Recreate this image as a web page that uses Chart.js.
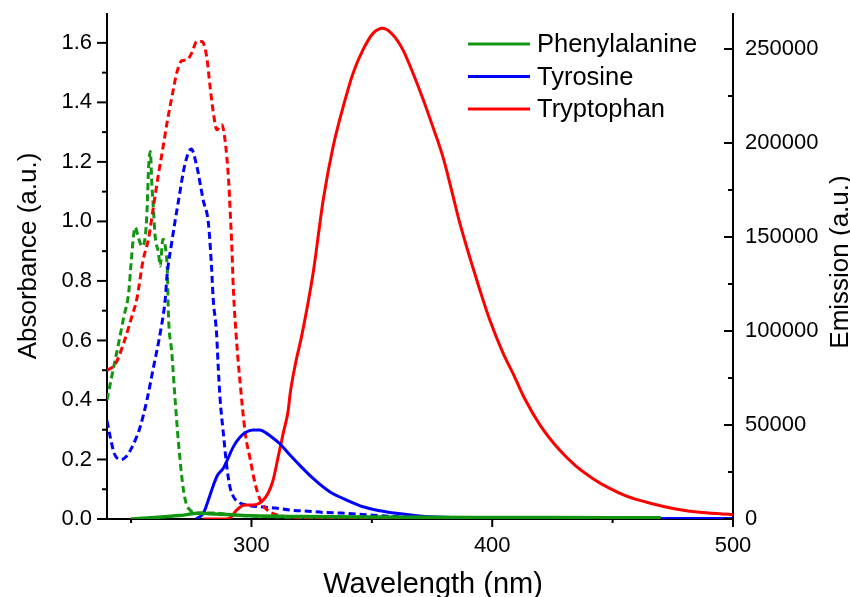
<!DOCTYPE html>
<html>
<head>
<meta charset="utf-8">
<script src="https://cdn.jsdelivr.net/npm/chart.js@4/dist/chart.umd.min.js"></script>
<style>
  body { margin: 0; background: #fff; }
  #wrap { width: 850px; height: 597px; }
</style>
</head>
<body>
<div id="wrap"><canvas id="grafik"></canvas></div>
<script>
// absorbance (dashed, left axis)
const pheAbsWl = [240, 242, 244.8, 247, 249, 250, 251, 251.7, 253.1, 254.5, 255.9, 256.6, 257.3, 258, 258.6, 259.3, 260, 261.4, 262.1, 263.2, 264.2, 265.1, 265.5, 266.9, 268.3, 269.7, 271.7, 273, 274.5, 278, 285, 290, 300, 320, 350, 400];
const pheAbs = [0.40, 0.48, 0.59, 0.68, 0.76, 0.86, 0.95, 0.98, 0.944, 0.916, 0.95, 1.03, 1.185, 1.235, 1.13, 1.04, 0.95, 0.894, 0.85, 0.94, 0.916, 0.827, 0.69, 0.56, 0.40, 0.255, 0.10, 0.05, 0.03, 0.02, 0.02, 0.015, 0.01, 0.005, 0, 0];

const tyrAbsWl = [240, 241.5, 243, 246, 248, 250.3, 252, 253.8, 256.6, 259.3, 262.1, 264.2, 264.9, 266.9, 269.7, 272.5, 275, 277.3, 280, 282.1, 283.4, 284.1, 285.5, 286.2, 287, 288.3, 289.7, 291, 292.5, 295, 298, 305, 310, 316, 323.6, 330, 337.4, 348, 360, 380, 400];
const tyrAbs = [0.33, 0.27, 0.22, 0.20, 0.21, 0.24, 0.27, 0.31, 0.40, 0.51, 0.625, 0.74, 0.815, 0.93, 1.07, 1.196, 1.243, 1.185, 1.07, 0.995, 0.85, 0.74, 0.625, 0.51, 0.40, 0.29, 0.18, 0.11, 0.075, 0.055, 0.047, 0.04, 0.037, 0.03, 0.026, 0.022, 0.02, 0.014, 0.008, 0.003, 0];

const trpAbsWl = [240, 243.4, 246.9, 250.3, 252.4, 255, 257.2, 259.3, 261.4, 263.5, 264.9, 267, 269, 271.1, 273.2, 275.2, 277.3, 279.4, 281.4, 282.8, 284.2, 285.6, 287.7, 289, 290.5, 291.2, 291.9, 292.5, 293.9, 295.3, 297.4, 299.5, 301.5, 303.6, 306.4, 310.5, 320, 340, 400];
const trpAbs = [0.50, 0.52, 0.59, 0.68, 0.74, 0.87, 0.94, 1.05, 1.16, 1.26, 1.33, 1.42, 1.50, 1.54, 1.543, 1.566, 1.605, 1.605, 1.554, 1.454, 1.364, 1.308, 1.325, 1.275, 1.14, 1.028, 0.905, 0.77, 0.59, 0.457, 0.29, 0.20, 0.12, 0.065, 0.031, 0.014, 0.005, 0, 0];

// emission (solid, right axis)
const pheEmWl = [250, 260, 270, 278, 285, 295, 300, 320, 350, 400, 450, 470];
const pheEm = [0, 800, 1800, 3000, 2600, 2000, 1700, 1300, 1000, 800, 700, 600];

const tyrEmWl = [277, 280, 282.1, 284.2, 286, 288.3, 290, 292.5, 295.2, 297.5, 300.7, 303.5, 306, 308.5, 311.8, 316, 320.1, 325.6, 332.5, 339.5, 346.3, 353.3, 360.2, 369.8, 380, 400, 450, 500];
const tyrEm = [0, 3000, 10100, 18000, 23500, 27000, 31500, 38500, 43500, 46000, 47300, 47300, 45800, 43500, 40000, 34000, 28500, 21600, 14500, 10100, 6500, 4400, 3000, 1600, 900, 500, 300, 200];

const trpEmWl = [280, 288, 291, 293.9, 297.3, 300.7, 304.2, 306.9, 309, 311.1, 313.2, 315.3, 316, 318.5, 320.8, 325.6, 329.8, 333.9, 338.1, 342.2, 346.3, 350.5, 354.6, 358.8, 362.9, 367.1, 371.2, 375.3, 379.5, 383, 386.4, 390.6, 394.7, 398.8, 404.4, 409.2, 413.4, 420, 427.9, 434.8, 441.7, 448.6, 455.5, 466.5, 476.2, 487.1, 500];
const trpEm = [0, 0, 500, 4800, 7400, 7400, 9200, 13700, 20700, 33100, 45600, 58000, 66000, 84000, 97000, 130700, 169700, 198000, 219300, 237100, 249500, 258300, 261000, 257400, 249500, 237100, 223500, 208700, 192700, 175500, 158000, 139500, 122500, 106500, 88500, 75900, 64200, 49700, 36800, 28100, 21600, 16400, 12300, 8100, 5300, 3400, 2300];

const names = ["Phenylalanine", "Tyrosine", "Tryptophan"];
const colors = ["#129612", "#0000ff", "#ff0000"];

const absTicks = [0, 0.2, 0.4, 0.6, 0.8, 1.0, 1.2, 1.4, 1.6];
const absMinor = [0.1, 0.3, 0.5, 0.7, 0.9, 1.1, 1.3, 1.5];
const emTicks = [0, 50000, 100000, 150000, 200000, 250000];
const emMinor = [25000, 75000, 125000, 175000, 225000];
const wlTicks = [300, 400, 500];
const wlMinor = [250, 350, 450];

const pts = (xs, ys) => xs.map((x, i) => ({ x: x, y: ys[i] }));
const font = "Liberation Sans, Arial, sans-serif";

const dashed = (d, c, ord) => ({
  data: d, yAxisID: "yAbs", borderColor: c, borderWidth: 3,
  borderDash: [7, 4], pointRadius: 0, cubicInterpolationMode: "monotone", order: ord,
});
const solid = (d, c, ord, w) => ({
  data: d, yAxisID: "yEm", borderColor: c, borderWidth: w,
  pointRadius: 0, cubicInterpolationMode: "monotone", order: ord, borderJoinStyle: "round",
});

// outward / inward tick marks, axis titles and legend
const decor = {
  id: "decor",
  afterDraw(chart) {
    const ctx = chart.ctx;
    const x = chart.scales.x, yA = chart.scales.yAbs, yE = chart.scales.yEm;
    const a = chart.chartArea;
    ctx.save();
    ctx.strokeStyle = "#000";
    ctx.lineWidth = 2;
    const tick = (x1, y1, x2, y2) => {
      ctx.beginPath(); ctx.moveTo(x1, y1); ctx.lineTo(x2, y2); ctx.stroke();
    };
    absTicks.forEach(v => { const p = yA.getPixelForValue(v); tick(a.left - 10, p, a.left, p); });
    absMinor.forEach(v => { const p = yA.getPixelForValue(v); tick(a.left - 5, p, a.left, p); });
    emTicks.forEach(v => { const p = yE.getPixelForValue(v); tick(a.right - 9, p, a.right, p); });
    emMinor.forEach(v => { const p = yE.getPixelForValue(v); tick(a.right - 5, p, a.right, p); });
    wlTicks.forEach(v => { const p = x.getPixelForValue(v); tick(p, a.bottom, p, a.bottom + 8); });
    wlMinor.forEach(v => { const p = x.getPixelForValue(v); tick(p, a.bottom, p, a.bottom + 4); });

    ctx.fillStyle = "#000";
    ctx.font = "29px " + font;
    ctx.textAlign = "center";
    ctx.textBaseline = "alphabetic";
    ctx.fillText("Wavelength (nm)", 433, 593);
    ctx.font = "26px " + font;
    ctx.textBaseline = "middle";
    ctx.save();
    ctx.translate(29, 256);
    ctx.rotate(-Math.PI / 2);
    ctx.fillText("Absorbance (a.u.)", 0, 0);
    ctx.restore();
    ctx.save();
    ctx.translate(841, 262);
    ctx.rotate(-Math.PI / 2);
    ctx.fillText("Emission (a.u.)", 0, 0);
    ctx.restore();

    ctx.font = "25.5px " + font;
    ctx.textAlign = "left";
    names.forEach((n, i) => {
      const ly = 44 + i * 32.5;
      ctx.strokeStyle = colors[i];
      ctx.lineWidth = 3;
      tick(468, ly, 530, ly);
      ctx.fillText(n, 537, ly + 1);
    });
    ctx.restore();
  },
};

const noPadY = s => { s.paddingTop = 0; s.paddingBottom = 0; };

new Chart(document.querySelector("#grafik"), {
  type: "line",
  data: {
    datasets: [
      dashed(pts(pheAbsWl, pheAbs), colors[0], 6),
      dashed(pts(tyrAbsWl, tyrAbs), colors[1], 5),
      dashed(pts(trpAbsWl, trpAbs), colors[2], 4),
      solid(pts(tyrEmWl, tyrEm), colors[1], 2, 3),
      solid(pts(trpEmWl, trpEm), colors[2], 3, 3),
      solid(pts(pheEmWl, pheEm), colors[0], 1, 3.5),
    ],
  },
  options: {
    responsive: true,
    maintainAspectRatio: false,
    animation: false,
    layout: { padding: { top: 14, left: 0, right: 0, bottom: 0 } },
    plugins: { legend: { display: false }, tooltip: { enabled: false } },
    scales: {
      x: {
        type: "linear", min: 240, max: 500,
        grid: { display: false, drawTicks: false },
        border: { display: true, color: "#000", width: 2 },
        afterBuildTicks: s => { s.ticks = wlTicks.map(v => ({ value: v })); },
        afterFit: s => { s.height = 78; s.paddingLeft = 0; s.paddingRight = 0; },
        ticks: { padding: 14, color: "#000", font: { family: font, size: 22 }, maxRotation: 0, callback: v => String(v) },
      },
      yAbs: {
        type: "linear", position: "left", min: 0, max: 1.697,
        grid: { display: false, drawTicks: false },
        border: { display: true, color: "#000", width: 2 },
        afterBuildTicks: s => { s.ticks = absTicks.map(v => ({ value: v })); },
        afterFit: s => { s.width = 107; noPadY(s); },
        ticks: { padding: 15, color: "#000", font: { family: font, size: 22 }, callback: v => v.toFixed(1) },
      },
      yEm: {
        type: "linear", position: "right", min: 0, max: 268600,
        grid: { display: false, drawTicks: false },
        border: { display: true, color: "#000", width: 2 },
        afterBuildTicks: s => { s.ticks = emTicks.map(v => ({ value: v })); },
        afterFit: s => { s.width = 117; noPadY(s); },
        ticks: { padding: 12, color: "#000", font: { family: font, size: 22 }, callback: v => String(v) },
      },
    },
  },
  plugins: [decor],
});
</script>
</body>
</html>
